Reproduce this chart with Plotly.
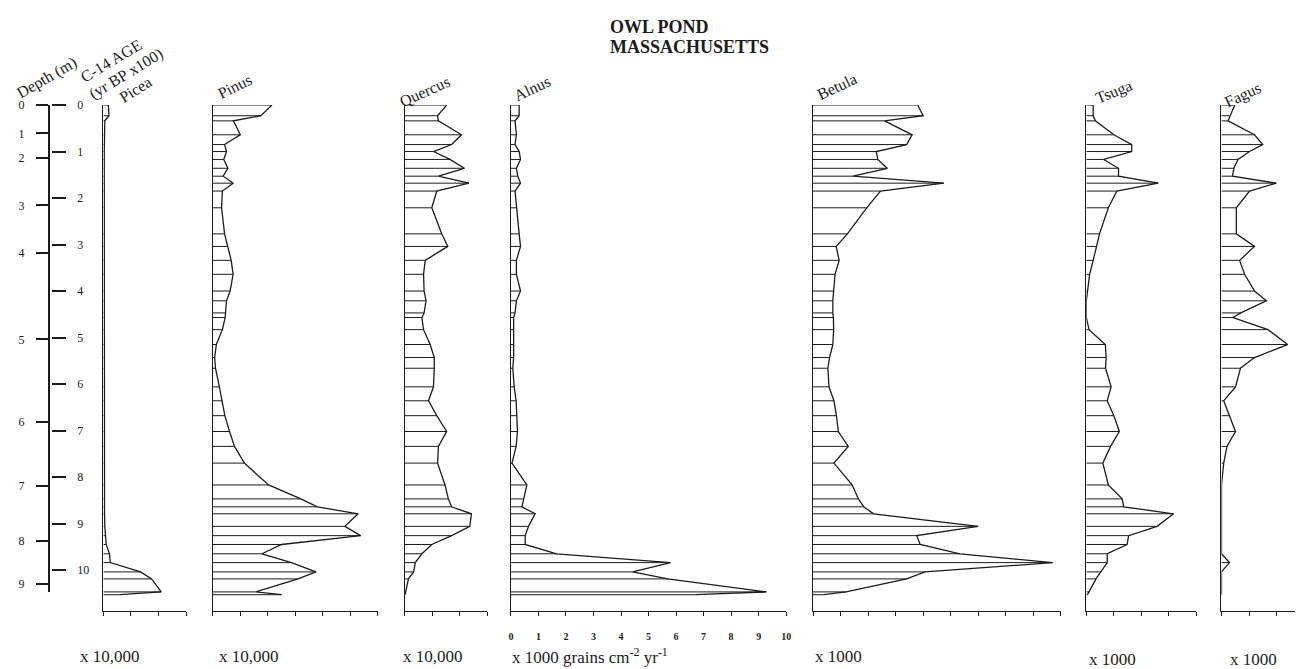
import plotly.graph_objects as go

# ---------------- data ----------------
# sample ages (C-14 yr BP x1000) shared by all taxa
sample_age = [0.00, 0.23, 0.34, 0.64, 0.85, 1.00, 1.17, 1.36, 1.53, 1.68,
              1.85, 2.21, 2.77, 3.04, 3.34, 3.64, 4.00, 4.21, 4.47, 4.57,
              4.83, 5.15, 5.43, 5.66, 6.06, 6.36, 6.68, 7.02, 7.34, 7.70,
              8.17, 8.47, 8.64, 8.79, 9.06, 9.26, 9.45, 9.65, 9.84, 10.04,
              10.19, 10.47, 10.53]

picea = [0.18, 0.20, 0.05, 0.03, 0.03, 0.03, 0.03, 0.03, 0.03, 0.03,
         0.03, 0.03, 0.03, 0.03, 0.03, 0.03, 0.03, 0.03, 0.03, 0.03,
         0.03, 0.02, 0.02, 0.02, 0.02, 0.02, 0.02, 0.02, 0.02, 0.02,
         0.02, 0.02, 0.03, 0.04, 0.05, 0.07, 0.10, 0.22, 0.25, 1.35,
         1.75, 2.10, 0.60]

pinus = [2.15, 1.75, 0.75, 1.00, 0.43, 0.50, 0.40, 0.55, 0.38, 0.74,
         0.35, 0.32, 0.43, 0.55, 0.67, 0.74, 0.63, 0.50, 0.46, 0.45,
         0.35, 0.13, 0.07, 0.10, 0.24, 0.35, 0.44, 0.61, 0.79, 1.15,
         2.03, 3.20, 3.80, 5.28, 4.80, 5.37, 2.50, 1.79, 2.86, 3.75,
         3.10, 1.56, 2.50]

quercus = [1.53, 1.20, 1.23, 2.07, 1.71, 1.05, 1.65, 2.17, 1.23, 2.34,
           1.17, 0.99, 1.35, 1.57, 0.75, 0.69, 0.71, 0.78, 0.71, 0.63,
           0.69, 0.93, 1.08, 1.08, 1.05, 0.87, 1.17, 1.53, 1.23, 1.20,
           1.47, 1.59, 1.71, 2.43, 2.37, 1.71, 0.99, 0.63, 0.39, 0.33,
           0.14, 0.05, 0.02]

alnus = [0.30, 0.30, 0.15, 0.20, 0.15, 0.30, 0.35, 0.20, 0.25, 0.35,
         0.15, 0.20, 0.30, 0.35, 0.20, 0.20, 0.35, 0.20, 0.15, 0.10,
         0.10, 0.08, 0.10, 0.07, 0.12, 0.19, 0.22, 0.24, 0.19, 0.04,
         0.58, 0.46, 0.40, 0.88, 0.64, 0.52, 0.52, 1.66, 5.80, 4.42,
         5.70, 9.28, 6.70]

betula = [3.80, 4.00, 2.60, 3.60, 3.40, 2.30, 2.35, 2.70, 1.45, 4.75,
          2.45, 1.95, 1.25, 0.84, 0.95, 0.80, 0.75, 0.72, 0.72, 0.74,
          0.75, 0.72, 0.60, 0.54, 0.58, 0.76, 0.85, 0.92, 1.28, 0.76,
          1.42, 1.65, 1.84, 2.20, 6.00, 3.77, 3.89, 5.34, 8.70, 4.07,
          3.40, 1.20, 0.40]

tsuga = [0.25, 0.25, 0.33, 1.00, 1.65, 1.65, 0.63, 1.17, 1.17, 2.61,
         1.11, 0.80, 0.48, 0.38, 0.25, 0.12, 0.04, 0.00, 0.00, 0.00,
         0.10, 0.69, 0.72, 0.70, 0.90, 0.76, 1.00, 1.20, 0.88, 0.60,
         0.80, 1.30, 1.36, 3.17, 2.57, 1.54, 1.48, 0.76, 0.76, 0.52,
         0.35, 0.10, 0.04]

fagus = [0.48, 0.30, 0.24, 1.20, 1.50, 1.02, 0.60, 0.45, 0.40, 1.99,
         1.02, 0.54, 0.54, 1.20, 0.66, 0.84, 1.20, 1.63, 0.70, 0.42,
         1.69, 2.40, 1.20, 0.69, 0.51, 0.08, 0.30, 0.51, 0.20, 0.08,
         0.00, 0.00, 0.00, 0.00, 0.00, 0.00, 0.00, 0.00, 0.29, 0.00,
         0.00, 0.00, 0.00]

taxa = ["Picea", "Pinus", "Quercus", "Alnus", "Betula", "Tsuga", "Fagus"]
series = [picea, pinus, quercus, alnus, betula, tsuga, fagus]
scale_labels = ["x 10,000", "x 10,000", "x 10,000",
                "x 1000 grains cm<sup>-2</sup> yr<sup>-1</sup>",
                "x 1000", "x 1000", "x 1000"]
tick_counts = [3, 6, 3, 10, 9, 4, 2]

depth_labels = ["0", "1", "2", "3", "4", "5", "6", "7", "8", "9"]
depth_ages = [0.0, 0.61, 1.14, 2.16, 3.18, 5.04, 6.81, 8.19, 9.38, 10.29]
age_tickvals = [0, 1, 2, 3, 4, 5, 6, 7, 8, 9, 10, 10.47]
age_ticktext = ["0", "1", "2", "3", "4", "5", "6", "7", "8", "9", "10", "10.5"]

# ---------------- geometry (page pixels) ----------------
# the page places the figure 8px from the top-left corner (body margin)
OX, OY = 8, 8
FW, FH = 1303 - OX, 669 - OY

def fx(px):
    return (px - OX) / FW

def fy(py):
    return 1 - (py - OY) / FH

PX_UNIT = 27.7
TOP, BOTTOM = 99, 610
PX_AGE = 47.0
panel_x0 = [101, 211, 404, 511, 815, 1090, 1226]
panel_units = [3, 6, 3, 10, 9, 4, (1303 - 1226) / PX_UNIT]

LINE = "#1c1c1c"
SERIF = "Liberation Serif"

fig = go.Figure()
layout = {}

y_max = (BOTTOM - TOP) / PX_AGE

for i, (name, vals) in enumerate(zip(taxa, series)):
    n = i + 1
    xa = "x" if n == 1 else f"x{n}"
    ya = "y" if n == 1 else f"y{n}"
    hx, hy = [], []
    for a, v in zip(sample_age, vals):
        hx += [0, v, None]
        hy += [a, a, None]
    fig.add_trace(go.Scatter(x=hx, y=hy, mode="lines", xaxis=xa, yaxis=ya,
                             line=dict(color=LINE, width=1), hoverinfo="skip",
                             showlegend=False))
    fig.add_trace(go.Scatter(x=vals, y=sample_age, mode="lines", xaxis=xa, yaxis=ya,
                             line=dict(color=LINE, width=1.3), name=name,
                             showlegend=False))
    x0 = panel_x0[i]
    units = panel_units[i]
    tc = tick_counts[i]
    xkey = "xaxis" if n == 1 else f"xaxis{n}"
    ykey = "yaxis" if n == 1 else f"yaxis{n}"
    layout[xkey] = dict(
        domain=[fx(x0), min(1.0, fx(x0 + units * PX_UNIT))],
        range=[0, units], anchor=ya, showline=True, linecolor=LINE, linewidth=1.2,
        ticks="outside", ticklen=4, tickwidth=1.2, tickcolor=LINE,
        tickvals=list(range(tc + 1)),
        ticktext=[f"<b>{k}</b>" for k in range(tc + 1)],
        showticklabels=(name == "Alnus"), ticklabelstandoff=12,
        tickfont=dict(family=SERIF, size=10, color=LINE),
        showgrid=False, zeroline=False, fixedrange=True)
    layout[ykey] = dict(
        domain=[fy(BOTTOM), fy(TOP)], range=[y_max, 0], anchor=xa,
        showline=True, linecolor=LINE, linewidth=1.2, ticks="",
        showticklabels=False, showgrid=False, zeroline=False, fixedrange=True)

# ---------------- depth / age axis ----------------
AX_BOTTOM = 591
age_max = (AX_BOTTOM - TOP) / PX_AGE
fig.add_trace(go.Scatter(x=[0.5], y=[5], xaxis="x8", yaxis="y8", mode="markers",
                         marker=dict(opacity=0), hoverinfo="skip", showlegend=False))
fig.add_trace(go.Scatter(x=[0.5], y=[5], xaxis="x8", yaxis="y9", mode="markers",
                         marker=dict(opacity=0), hoverinfo="skip", showlegend=False))
layout["xaxis8"] = dict(domain=[fx(47), fx(48)], range=[0, 1], visible=False,
                        anchor="y8", fixedrange=True)
layout["yaxis8"] = dict(domain=[fy(AX_BOTTOM), fy(TOP)], range=[age_max, 0],
                        anchor="x8", side="left", showline=True, linecolor=LINE,
                        linewidth=1.8, ticks="outside", ticklen=12, tickwidth=1.8,
                        tickcolor=LINE, tickvals=depth_ages, ticktext=depth_labels,
                        ticklabelstandoff=9,
                        tickfont=dict(family=SERIF, size=12, color=LINE),
                        showgrid=False, zeroline=False, fixedrange=True)
layout["yaxis9"] = dict(domain=[fy(AX_BOTTOM), fy(TOP)], range=[age_max, 0],
                        anchor="x8", overlaying="y8", side="right", showline=False,
                        ticks="outside", ticklen=14, tickwidth=1.8, tickcolor=LINE,
                        tickvals=age_tickvals, ticktext=age_ticktext,
                        ticklabelstandoff=9,
                        tickfont=dict(family=SERIF, size=12, color=LINE),
                        showgrid=False, zeroline=False, fixedrange=True)

# ---------------- text ----------------
annotations = []

def txt(t, x, y, size=16, angle=0, anchor="center", bold=False):
    annotations.append(dict(
        text=f"<b>{t}</b>" if bold else t, x=fx(x), y=fy(y),
        xref="paper", yref="paper", xanchor=anchor, yanchor="middle",
        textangle=angle, showarrow=False,
        font=dict(family=SERIF, size=size, color=LINE)))

txt("OWL POND", 609, 20, size=18, anchor="left", bold=True)
txt("MASSACHUSETTS", 609, 40, size=18, anchor="left", bold=True)

txt("Depth (m)", 44, 72, size=16, angle=-30)
txt("C-14 AGE", 109, 54, size=16, angle=-31)
txt("(yr BP x100)", 124, 68, size=16, angle=-31)

label_pos = [(133, 83), (233, 80), (424, 85), (532, 82), (839, 80), (1118, 86), (1248, 89)]
label_ang = [-32, -26, -24, -25, -25, -22, -25]
for name, (lx, ly), ang in zip(taxa, label_pos, label_ang):
    txt(name, lx, ly, size=16, angle=ang)

scale_pos = [(75, 656), (215, 656), (400, 656), (510, 656), (815, 656), (1091, 659), (1233, 659)]
for s, (sx, sy) in zip(scale_labels, scale_pos):
    txt(s, sx, sy, size=17, anchor="left")

layout["annotations"] = annotations

fig.update_layout(**layout)
fig.update_layout(width=FW, height=FH, margin=dict(l=0, r=0, t=0, b=0),
                  paper_bgcolor="white", plot_bgcolor="rgba(0,0,0,0)",
                  showlegend=False, hovermode=False)

fig.write_html("out.html")
